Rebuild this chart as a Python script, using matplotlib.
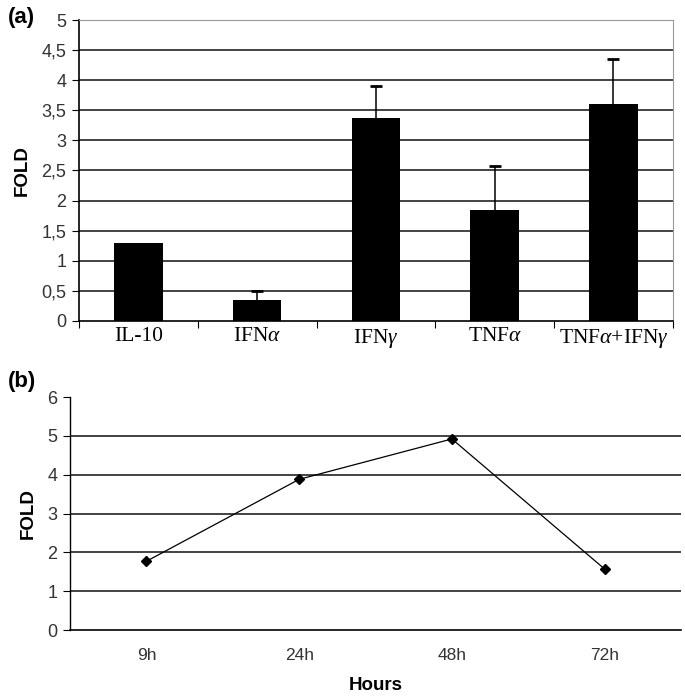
import matplotlib.pyplot as plt
import numpy as np

# panel (a) data
cytokines = ['IL-10', 'IFN$\\alpha$', 'IFN$\\gamma$', 'TNF$\\alpha$', 'TNF$\\alpha$+IFN$\\gamma$']
fold_a = [1.3, 0.35, 3.38, 1.85, 3.6]
err_a = [0.0, 0.15, 0.52, 0.72, 0.75]
yticks_a = [0, 0.5, 1, 1.5, 2, 2.5, 3, 3.5, 4, 4.5, 5]
ytick_labels_a = ['0', '0,5', '1', '1,5', '2', '2,5', '3', '3,5', '4', '4,5', '5']

# panel (b) data
hours = ['9h', '24h', '48h', '72h']
fold_b = [1.77, 3.88, 4.92, 1.57]

plt.rcParams['font.family'] = ['Liberation Sans', 'DejaVu Sans']
plt.rcParams['mathtext.fontset'] = 'custom'
plt.rcParams['mathtext.rm'] = 'Liberation Serif'
plt.rcParams['mathtext.it'] = 'Liberation Serif:italic'

fig = plt.figure(figsize=(6.85, 6.97), dpi=100)

# ---- (a) bar chart ----
ax1 = fig.add_axes([0.1153, 0.5395, 0.867, 0.4318])
x = np.arange(len(cytokines))
ax1.bar(x, fold_a, width=0.41, color='black', zorder=3)
# upper error bars only (no cap at bar top)
for xi, v, e in zip(x, fold_a, err_a):
    if e > 0:
        ax1.vlines(xi, v, v + e, color='black', lw=1.1, zorder=2)
        ax1.plot(xi, v + e, marker='_', markersize=9, mew=2, color='black', zorder=2)
ax1.set_xlim(-0.5, len(cytokines) - 0.5)
ax1.set_ylim(0, 5)
ax1.set_yticks(yticks_a)
ax1.set_yticklabels(ytick_labels_a, fontsize=13, color='#333333')
for y in yticks_a[1:-1]:
    ax1.axhline(y, color='#222222', lw=1.2, zorder=1)
ax1.set_xticks(np.arange(len(cytokines) + 1) - 0.5)
ax1.set_xticklabels([])
ax1.set_xticks(x, minor=True)
ax1.set_xticklabels(cytokines, minor=True, fontsize=15.5, family='Liberation Serif')
ax1.tick_params(axis='x', which='minor', length=0, pad=4)
ax1.tick_params(axis='x', which='major', length=5, direction='out')
ax1.tick_params(axis='y', length=5, direction='out', pad=4)
ax1.spines['top'].set_color('#999999')
ax1.spines['right'].set_color('#999999')
ax1.spines['left'].set_linewidth(1.2)
ax1.spines['bottom'].set_linewidth(1.2)
ax1.set_ylabel('FOLD', fontsize=13.5, fontweight='bold', labelpad=8)
fig.text(0.012, 0.975, '(a)', fontsize=16, fontweight='bold', va='center')

# ---- (b) line chart ----
ax2 = fig.add_axes([0.1022, 0.0961, 0.892, 0.3343])
xb = np.arange(len(hours))
ax2.plot(xb, fold_b, color='black', lw=0.9, marker='D', markersize=5, zorder=3)
ax2.set_xlim(-0.5, len(hours) - 0.5)
ax2.set_ylim(0, 6)
ax2.set_yticks(range(0, 7))
ax2.set_yticklabels([str(i) for i in range(0, 7)], fontsize=13, color='#333333')
for y in range(1, 6):
    ax2.axhline(y, color='#222222', lw=1.2, zorder=1)
ax2.set_xticks(xb)
ax2.set_xticklabels(hours, fontsize=12.5, color='#333333')
ax2.tick_params(axis='x', length=0, pad=13)
ax2.tick_params(axis='y', length=5, direction='out', pad=4)
for s in ['top', 'right']:
    ax2.spines[s].set_visible(False)
ax2.spines['left'].set_linewidth(1.0)
ax2.spines['bottom'].set_linewidth(1.2)
ax2.set_ylabel('FOLD', fontsize=13.5, fontweight='bold', labelpad=8)
ax2.set_xlabel('Hours', fontsize=13.5, fontweight='bold', labelpad=10)
fig.text(0.012, 0.452, '(b)', fontsize=16, fontweight='bold', va='center')

fig.savefig('out.png', dpi=100)
